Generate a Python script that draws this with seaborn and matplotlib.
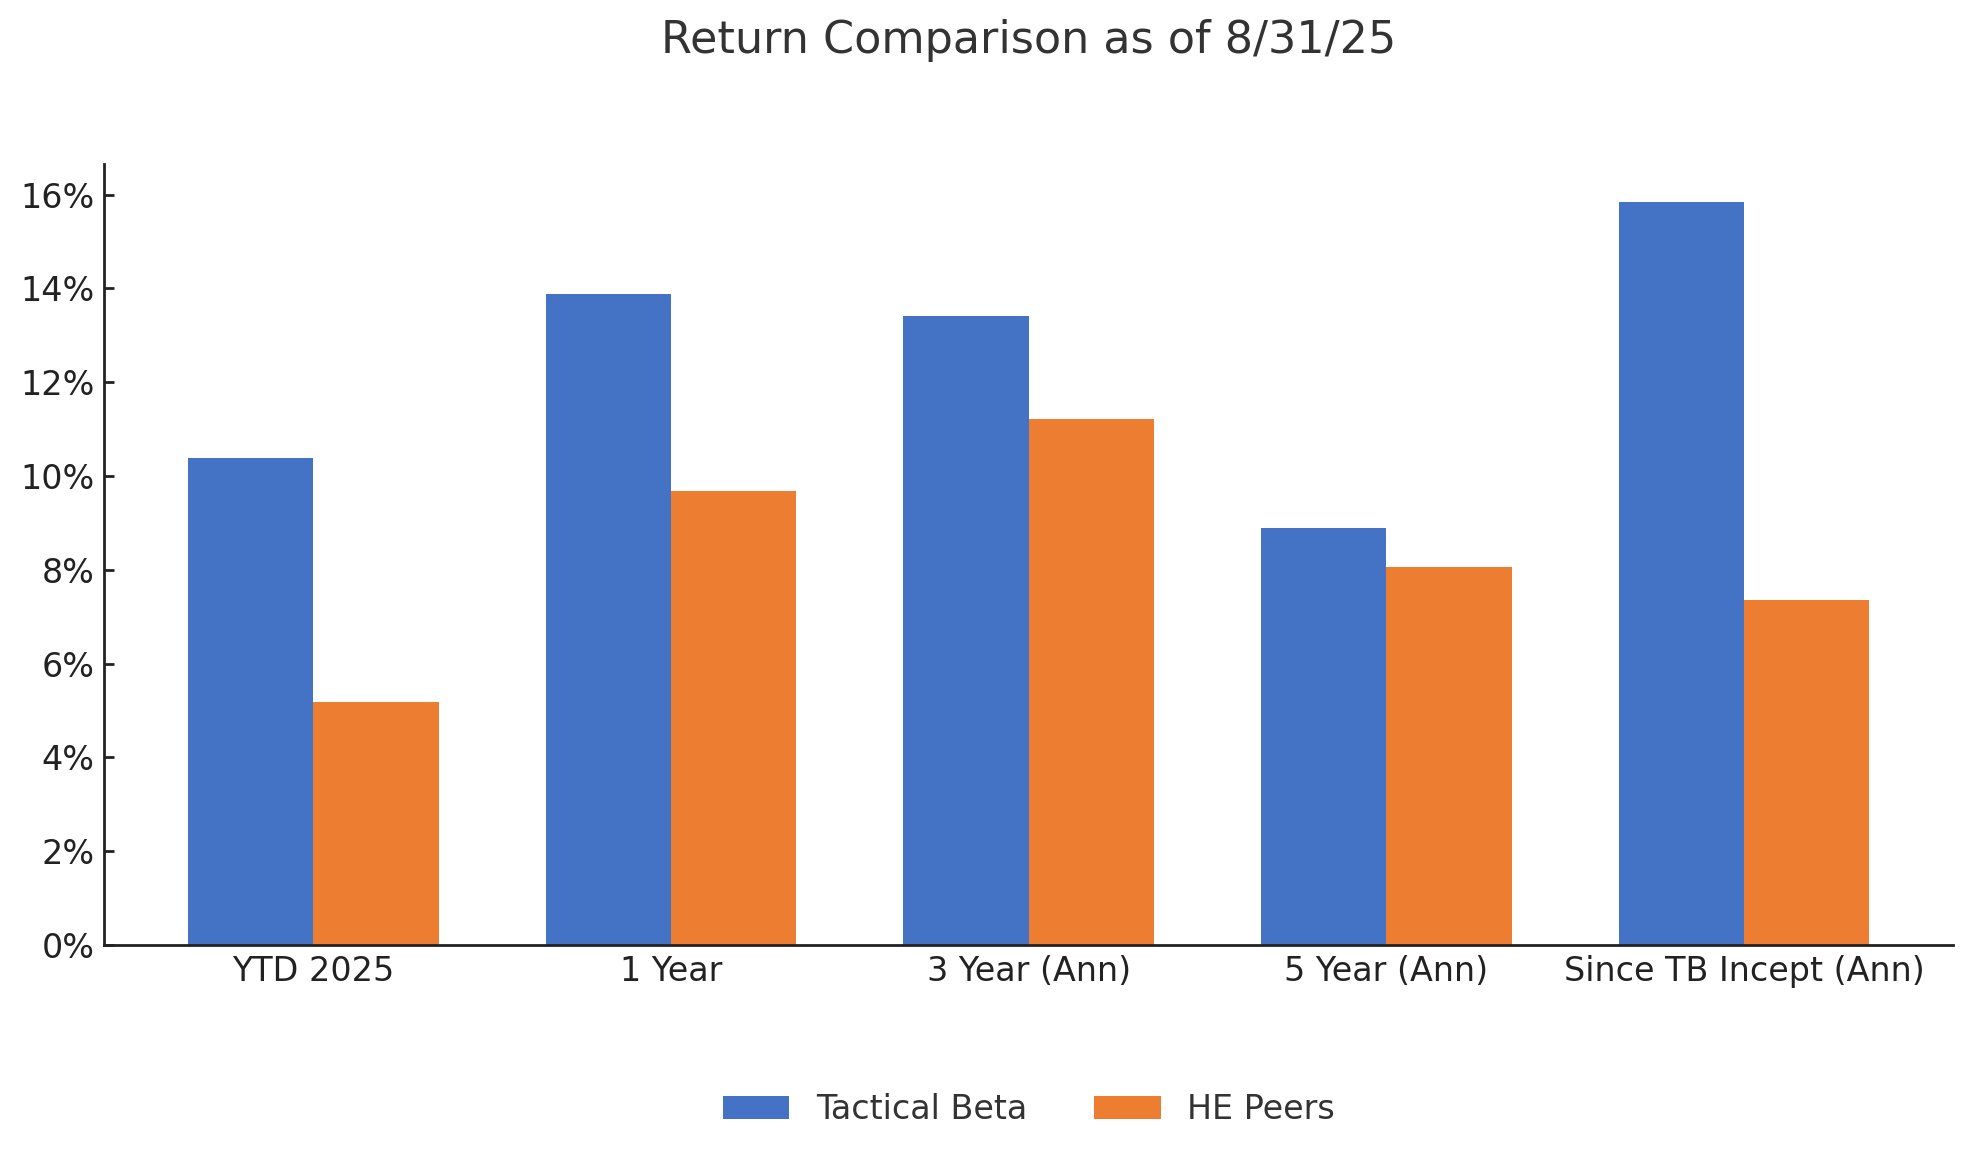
import pandas as pd
import matplotlib.pyplot as plt
import seaborn as sb
from matplotlib.ticker import PercentFormatter

periods = ["YTD 2025", "1 Year", "3 Year (Ann)", "5 Year (Ann)", "Since TB Incept (Ann)"]
tactical_beta = [10.38, 13.89, 13.42, 8.89, 15.85]
he_peers = [5.19, 9.67, 11.21, 8.06, 7.35]
series_names = ["Tactical Beta", "HE Peers"]
colors = ["#4472C4", "#ED7D31"]

df = pd.DataFrame({
    "period": periods * 2,
    "series": [series_names[0]] * len(periods) + [series_names[1]] * len(periods),
    "ret": tactical_beta + he_peers,
})

sb.set_style("ticks")
plt.rcParams["font.family"] = ["DejaVu Sans"]

fig = plt.figure(figsize=(9.875, 5.79), dpi=200)
ax = fig.add_axes([0.0527, 0.184, 0.9363, 0.674])

sb.barplot(data=df, x="period", y="ret", hue="series", palette=colors,
           width=0.7, saturation=1, errorbar=None, ax=ax, legend=True,
           linewidth=0, edgecolor="none")

ax.set_xlim(-0.585, 4.585)
ax.set_xlabel("")
ax.set_ylabel("")
ax.set_yticks(range(0, 17, 2))
ax.yaxis.set_major_formatter(PercentFormatter(xmax=100, decimals=0))
ax.tick_params(axis="both", direction="in", labelsize=12, colors="#222222",
               length=3.5, width=1.0)
for side in ["left", "bottom"]:
    ax.spines[side].set_color("#222222")
    ax.spines[side].set_linewidth(1.0)
sb.despine(ax=ax)

ax.set_title("Return Comparison as of 8/31/25", fontsize=16, color="#333333", pad=40)

# legend below the plot, centred on the axes
handles, labels = ax.get_legend_handles_labels()
ax.get_legend().remove()
leg = fig.legend(handles, labels, loc="center", bbox_to_anchor=(0.521, 0.042),
                 ncol=2, frameon=False, fontsize=12)
for t in leg.get_texts():
    t.set_color("#333333")

fig.savefig("out.png", dpi=200)
